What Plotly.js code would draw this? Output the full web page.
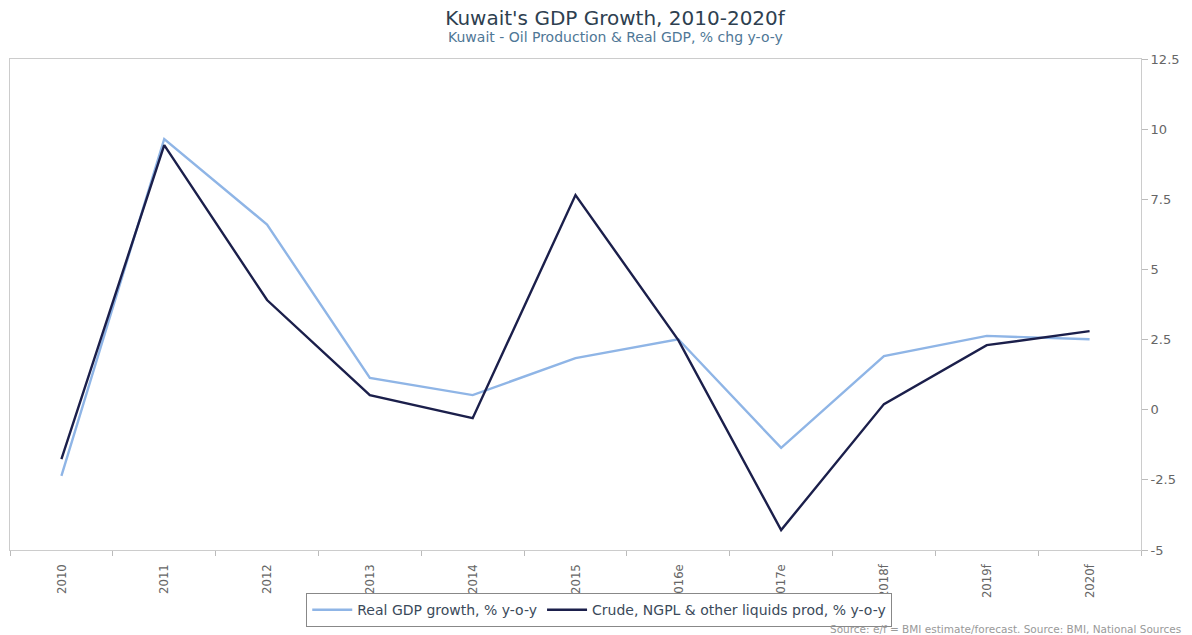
<!DOCTYPE html>
<html><head><meta charset="utf-8">
<script src="https://cdn.plot.ly/plotly-3.0.1.min.js"></script>
<style>html,body{margin:0;padding:0;background:#fff}#chart{width:1192px;height:635px}</style>
</head><body><div id="chart"></div>
<script>
var categories = ["2010","2011","2012","2013","2014","2015","2016e","2017e","2018f","2019f","2020f"];
var realGDP = [-2.36, 9.65, 6.6, 1.13, 0.52, 1.84, 2.51, -1.36, 1.91, 2.63, 2.51];
var crudeProd = [-1.76, 9.43, 3.91, 0.52, -0.3, 7.65, 2.48, -4.29, 0.2, 2.3, 2.8];
var yTicks = [-5, -2.5, 0, 2.5, 5, 7.5, 10, 12.5];

var traces = [
  {x: categories, y: realGDP, type: 'scatter', mode: 'lines', name: 'Real GDP growth, % y-o-y',
   line: {color: '#8fb5e6', width: 2.4}},
  {x: categories, y: crudeProd, type: 'scatter', mode: 'lines', name: 'Crude, NGPL & other liquids prod, % y-o-y',
   line: {color: '#1b1f4b', width: 2.4}}
];

var layout = {
  width: 1192, height: 635,
  margin: {l: 10, r: 51, t: 59, b: 85},
  paper_bgcolor: '#fff', plot_bgcolor: '#fff',
  font: {family: 'DejaVu Sans, sans-serif', color: '#555'},
  showlegend: true,
  title: {text: "Kuwait's GDP Growth, 2010-2020f",
    font: {size: 20, color: '#2e3f50', family: 'DejaVu Sans, sans-serif'},
    xref: 'paper', x: 0.535, xanchor: 'center', yref: 'container', y: 0.971, yanchor: 'middle', automargin: false},
  xaxis: {
    type: 'category', tickson: 'boundaries', ticks: 'outside', ticklen: 5, tickcolor: '#bbb',
    showline: true, linecolor: '#ccc', linewidth: 1, mirror: true, showgrid: false, zeroline: false,
    tickangle: -90, ticklabelstandoff: 8, automargin: false,
    tickfont: {size: 13, color: '#666', family: 'DejaVu Sans Condensed, DejaVu Sans, sans-serif'},
    range: [-0.5, 10.5]
  },
  yaxis: {
    side: 'right', range: [-5, 12.5], tickvals: yTicks, ticktext: yTicks.map(String),
    ticks: 'outside', ticklen: 6, tickcolor: '#bbb', automargin: false,
    showline: true, linecolor: '#ccc', linewidth: 1, mirror: true, showgrid: false, zeroline: false,
    tickfont: {size: 13, color: '#666'}
  },
  legend: {orientation: 'h', x: 0.521, xanchor: 'center', yref: 'container', y: 0.066, yanchor: 'top',
    bordercolor: '#888', borderwidth: 1, bgcolor: '#fff', font: {size: 14, color: '#3b4a5a'},
    itemwidth: 40},
  annotations: [
    {text: 'Kuwait - Oil Production & Real GDP, % chg y-o-y', xref: 'paper', yref: 'paper',
     x: 0.535, xanchor: 'center', y: 1.045, yanchor: 'middle', showarrow: false,
     font: {size: 14, color: '#4f7796'}},
    {text: 'Source: e/f = BMI estimate/forecast. Source: BMI, National Sources', xref: 'paper', yref: 'paper',
     x: 1.037, xanchor: 'right', y: -0.161, yanchor: 'middle', showarrow: false, font: {size: 10.5, color: '#999'}}]
};
Plotly.newPlot('chart', traces, layout, {displayModeBar: false});
</script></body></html>
